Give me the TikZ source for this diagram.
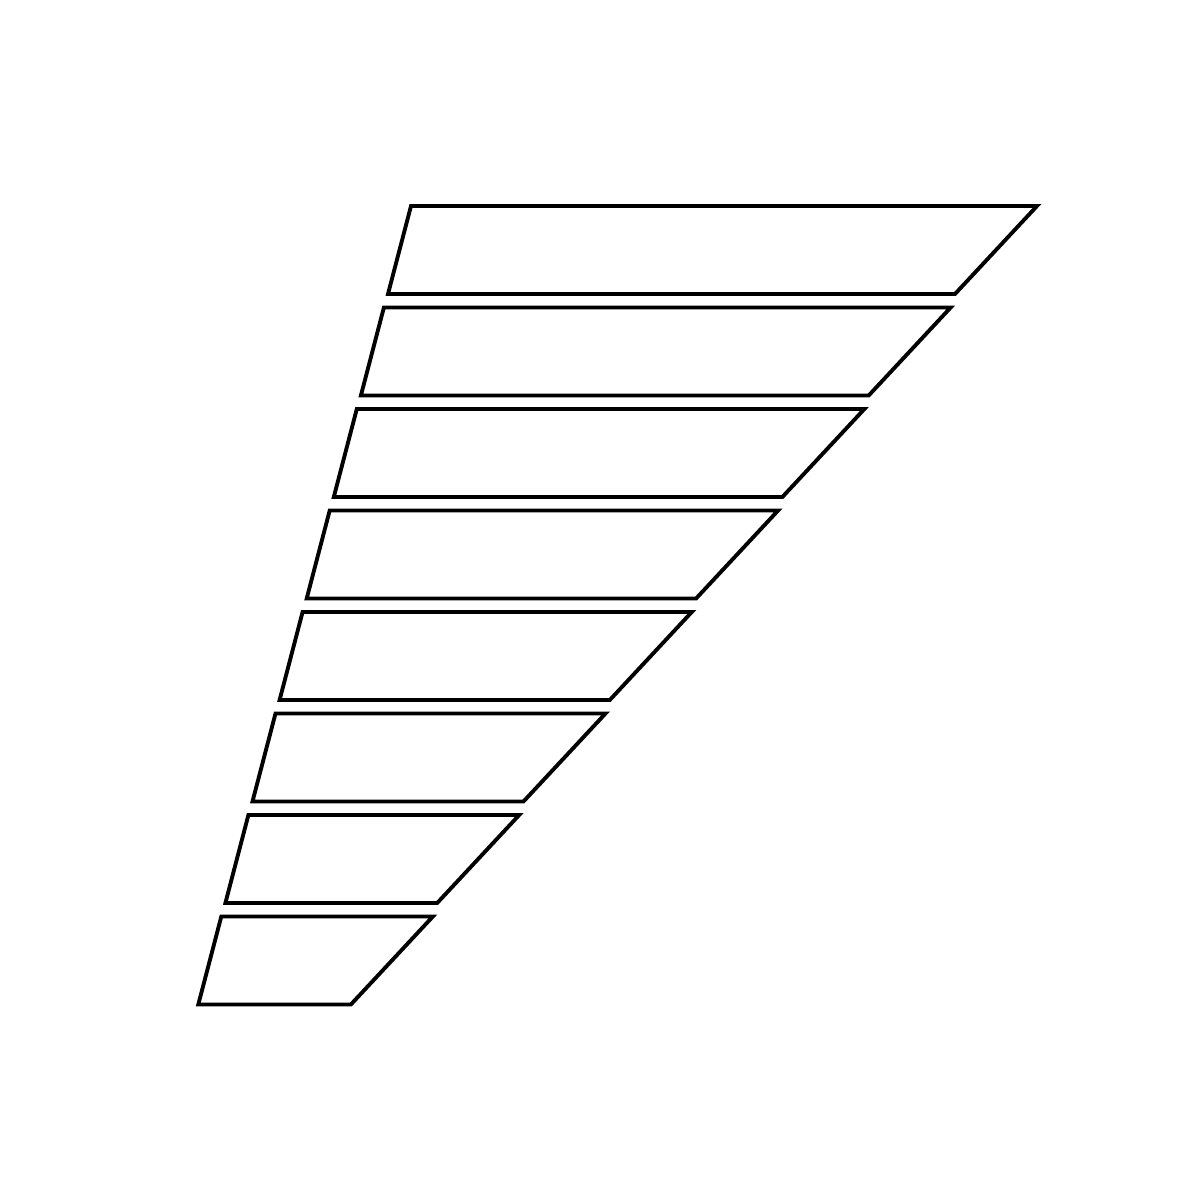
\documentclass[tikz,border=0pt]{standalone}
\usepackage{tikz}

\begin{document}
\begin{tikzpicture}[line width=1.1pt, line join=miter]
\useasboundingbox (0,0) rectangle (11.96,11.96);
% eight slanted bars, shrinking downwards
\foreach \i in {0,...,7} {
  \pgfmathsetmacro{\xl}{4.11-0.271*\i}
  \pgfmathsetmacro{\xr}{10.37-0.863*\i}
  \pgfmathsetmacro{\yt}{9.90-1.015*\i}
  \draw (\xl,\yt) -- (\xr,\yt) -- (\xr-0.82,\yt-0.88) -- (\xl-0.23,\yt-0.88) -- cycle;
}
\end{tikzpicture}
\end{document}
